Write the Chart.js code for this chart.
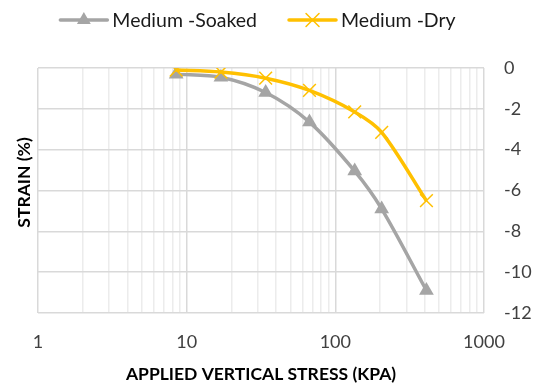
<!DOCTYPE html>
<html>
<head>
<meta charset="utf-8">
<script src="https://cdn.jsdelivr.net/npm/chart.js@4.4.1/dist/chart.umd.min.js"></script>
<style>
  html, body { margin: 0; padding: 0; background: #fff; }
  #wrap { width: 539px; height: 388px; }
</style>
</head>
<body>
<div id="wrap"><canvas id="chart" width="539" height="388"></canvas></div>
<script>
// Oedometer data (stress in kPa, strain in %)
const seriesNames = ['Medium -Soaked', 'Medium -Dry'];
const stressSoaked = [8.5, 17, 34, 67, 135, 205, 410];
const strainSoaked = [-0.3, -0.45, -1.2, -2.65, -5.05, -6.9, -10.9];
const stressDry = [8.5, 17, 34, 67, 135, 205, 410];
const strainDry = [-0.1, -0.2, -0.5, -1.1, -2.15, -3.15, -6.5];
const xDecades = [1, 10, 100, 1000];
const yTicks = [0, -2, -4, -6, -8, -10, -12];

const GREY = '#a5a5a5';
const GOLD = '#ffc000';
const FONT = 'Lato, "Open Sans", sans-serif';

function toPoints(xs, ys) {
    return xs.map((x, i) => ({ x: x, y: ys[i] }));
}

// every 1..9 x 10^n position, for the log grid
const xGrid = [];
xDecades.forEach((d, i) => {
    if (i === xDecades.length - 1) { xGrid.push(d); return; }
    for (let m = 1; m < 10; m++) xGrid.push(d * m);
});

function drawMarker(ctx, kind, x, y, color) {
    ctx.save();
    if (kind === 'triangle') {
        const r = 8;
        ctx.fillStyle = color;
        ctx.beginPath();
        ctx.moveTo(x, y - r);
        ctx.lineTo(x + r * 0.866, y + r * 0.5);
        ctx.lineTo(x - r * 0.866, y + r * 0.5);
        ctx.closePath();
        ctx.fill();
    } else {
        const r = 6.5;
        ctx.strokeStyle = color;
        ctx.lineWidth = 1.5;
        ctx.beginPath();
        ctx.moveTo(x - r, y - r); ctx.lineTo(x + r, y + r);
        ctx.moveTo(x + r, y - r); ctx.lineTo(x - r, y + r);
        ctx.stroke();
    }
    ctx.restore();
}

// legend at the top and the left-hand axis title
const extras = {
    id: 'extras',
    afterDraw(chart) {
        const ctx = chart.ctx;
        const area = chart.chartArea;

        ctx.save();
        ctx.translate(24, (area.top + area.bottom) / 2 - 8);
        ctx.rotate(-Math.PI / 2);
        ctx.font = 'bold 17.5px ' + FONT;
        ctx.fillStyle = '#000';
        ctx.textAlign = 'center';
        ctx.textBaseline = 'middle';
        ctx.fillText('STRAIN (%)', 0, 0);
        ctx.restore();

        ctx.save();
        ctx.font = '19.5px ' + FONT;
        const lineLen = 47, gap = 5, itemGap = 32, y = 20;
        const widths = seriesNames.map(n => ctx.measureText(n).width);
        const total = lineLen * 2 + gap * 2 + itemGap + widths[0] + widths[1];
        let x = 258 - total / 2;
        const styles = [[GREY, 'triangle'], [GOLD, 'cross']];
        seriesNames.forEach((name, i) => {
            const [color, kind] = styles[i];
            ctx.strokeStyle = color;
            ctx.lineWidth = 3.5;
            ctx.lineCap = 'round';
            ctx.beginPath();
            ctx.moveTo(x, y);
            ctx.lineTo(x + lineLen, y);
            ctx.stroke();
            drawMarker(ctx, kind, x + lineLen / 2, y, color);
            ctx.fillStyle = '#1a1a1a';
            ctx.textAlign = 'left';
            ctx.textBaseline = 'middle';
            ctx.fillText(name, x + lineLen + gap, y + 1);
            x += lineLen + gap + widths[i] + itemGap;
        });
        ctx.restore();
    }
};

new Chart(document.getElementById('chart'), {
    type: 'line',
    data: {
        datasets: [{
            label: seriesNames[0],
            data: toPoints(stressSoaked, strainSoaked),
            borderColor: GREY,
            backgroundColor: GREY,
            borderWidth: 3.5,
            pointStyle: 'triangle',
            pointRadius: 8.5,
            pointBorderWidth: 0,
            tension: 0.3,
            order: 1
        }, {
            label: seriesNames[1],
            data: toPoints(stressDry, strainDry),
            borderColor: GOLD,
            backgroundColor: GOLD,
            borderWidth: 3.5,
            pointStyle: 'crossRot',
            pointRadius: 9,
            pointBorderWidth: 1.5,
            tension: 0.3,
            order: 0
        }]
    },
    options: {
        responsive: false,
        animation: false,
        devicePixelRatio: 1,
        layout: { padding: { top: 68, left: 38, right: 0, bottom: 0 } },
        plugins: {
            legend: { display: false },
            tooltip: { enabled: false }
        },
        scales: {
            x: {
                type: 'logarithmic',
                min: 1,
                max: 1000,
                afterBuildTicks: scale => { scale.ticks = xGrid.map(v => ({ value: v })); },
                afterFit: scale => { scale.height = 75; },
                grid: {
                    color: c => xDecades.includes(c.tick.value) ? '#d9d9d9' : '#ececec',
                    lineWidth: c => xDecades.includes(c.tick.value) ? 1.5 : 1.5,
                    drawTicks: false
                },
                border: { display: false },
                ticks: {
                    autoSkip: false,
                    maxRotation: 0,
                    padding: 18,
                    color: '#404040',
                    font: { family: FONT, size: 18 },
                    callback: v => xDecades.includes(v) ? String(v) : ''
                },
                title: {
                    display: true,
                    text: 'APPLIED VERTICAL STRESS (KPA)',
                    color: '#000',
                    font: { family: FONT, size: 17.5, weight: 'bold' },
                    padding: { top: 8, bottom: 3 }
                }
            },
            y: {
                position: 'right',
                min: -12,
                max: 0,
                afterBuildTicks: scale => { scale.ticks = yTicks.map(v => ({ value: v })); },
                afterFit: scale => { scale.width = 55; },
                grid: { color: '#d9d9d9', lineWidth: 1.5, drawTicks: false },
                border: { display: false },
                ticks: {
                    padding: 20,
                    color: '#404040',
                    font: { family: FONT, size: 18 }
                }
            }
        }
    },
    plugins: [extras]
});
</script>
</body>
</html>
